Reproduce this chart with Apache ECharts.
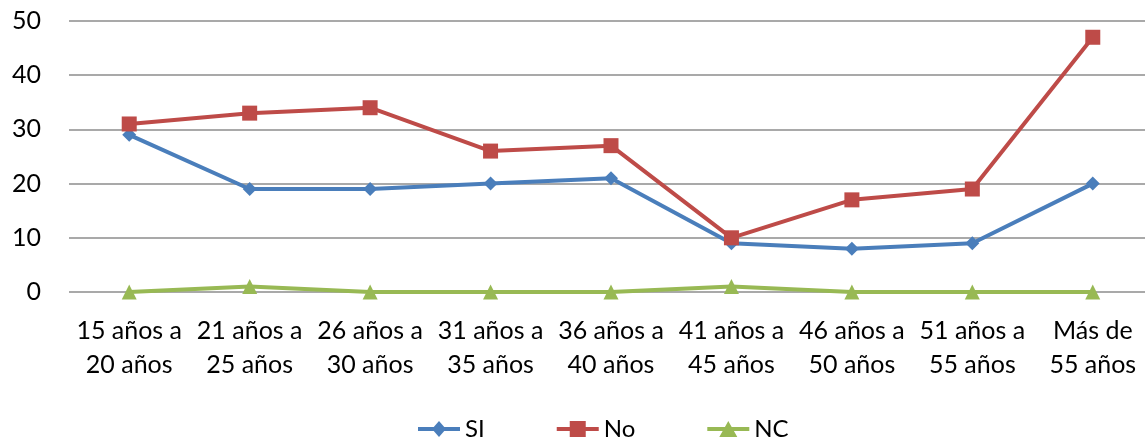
<!DOCTYPE html>
<html><head><meta charset="utf-8">
<script src="https://cdn.jsdelivr.net/npm/echarts@6/dist/echarts.min.js"></script>
<style>html,body{margin:0;padding:0;background:#fff;overflow:hidden;width:1145px;height:439px}#c{width:1153px;height:439px}</style>
</head><body><div id="c"></div>
<script>
const categories = ["15 años a\n20 años","21 años a\n25 años","26 años a\n30 años","31 años a\n35 años","36 años a\n40 años","41 años a\n45 años","46 años a\n50 años","51 años a\n55 años","Más de\n55 años"];
const siValues = [29, 19, 19, 20, 21, 9, 8, 9, 20];
const noValues = [31, 33, 34, 26, 27, 10, 17, 19, 47];
const ncValues = [0, 1, 0, 0, 0, 1, 0, 0, 0];
const yTicks = {min: 0, max: 50, interval: 10};

const font = 'Lato, "Open Sans", sans-serif';
const bar = 'M0,6 L42,6 L42,10 L0,10 Z ';
const icons = {
  SI: 'path://' + bar + 'M21,0 L28,8 L21,16 L14,8 Z',
  No: 'path://' + bar + 'M13,0 L29,0 L29,16 L13,16 Z',
  NC: 'path://' + bar + 'M21,0 L30,16 L12,16 Z'
};
const chart = echarts.init(document.getElementById('c'));
chart.setOption({
  animation: false,
  textStyle: {fontFamily: font},
  grid: {left: 69, width: 1084, top: 21, height: 271, containLabel: false},
  legend: {
    top: 412, left: 413, itemGap: 72, itemWidth: 42, itemHeight: 16,
    textStyle: {fontSize: 24, color: '#000', fontFamily: font},
    data: [{name: 'SI', icon: icons.SI}, {name: 'No', icon: icons.No}, {name: 'NC', icon: icons.NC}]
  },
  xAxis: {
    type: 'category', data: categories, boundaryGap: true,
    axisLine: {show: false}, axisTick: {show: false},
    axisLabel: {fontSize: 25, color: '#000', lineHeight: 34, margin: 22, interval: 0}
  },
  yAxis: {
    type: 'value', min: yTicks.min, max: yTicks.max, interval: yTicks.interval,
    axisLine: {show: false}, axisTick: {show: false},
    axisLabel: {fontSize: 25, color: '#000', margin: 28},
    splitLine: {lineStyle: {color: '#8c8c8c', width: 1.5}}
  },
  series: [
    {name: 'SI', type: 'line', data: siValues, symbol: 'diamond', symbolSize: 14,
     itemStyle: {color: '#4A7EBB'}, lineStyle: {width: 4, color: '#4A7EBB'}},
    {name: 'No', type: 'line', data: noValues, symbol: 'rect', symbolSize: 15,
     itemStyle: {color: '#BE4B48'}, lineStyle: {width: 4, color: '#BE4B48'}},
    {name: 'NC', type: 'line', data: ncValues, symbol: 'triangle', symbolSize: 15,
     itemStyle: {color: '#98B954'}, lineStyle: {width: 4, color: '#98B954'}}
  ]
});
</script></body></html>
